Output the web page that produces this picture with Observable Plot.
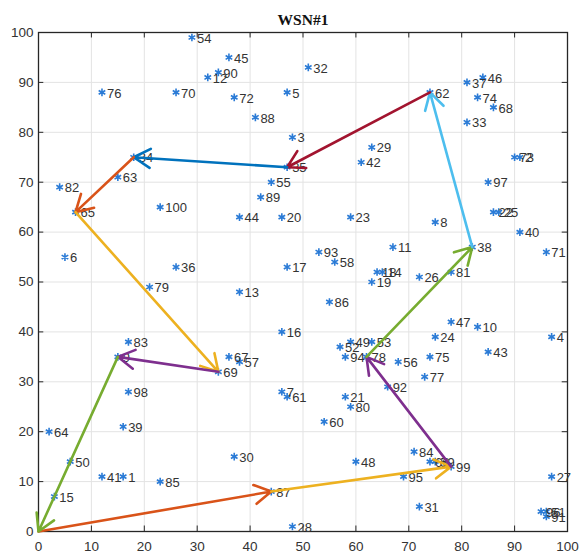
<!DOCTYPE html>
<html><head><meta charset="utf-8">
<script src="https://cdn.jsdelivr.net/npm/d3@7"></script>
<script src="https://cdn.jsdelivr.net/npm/@observablehq/plot@0.6"></script>
<style>body{margin:0;background:#fff;font-family:"Liberation Sans",Arial,sans-serif;}</style>
</head><body><div id="chart"></div>
<script>
// Node coordinates (node id = index + 1)
const nodeX = [16,91,48,97,47,5,46,75,15,83, 67,32,38,65,3,46,47,64,63,46, 58,86,59,75,87,72,97,48,63,37,
               72,51,81,18,47,26,81,82,16,91, 12,61,85,38,36,84,78,60,59,6, 96,57,63,29,44,68,38,56,75,54,
               47,74,15,2,7,74,36,86,34,26, 96,37,90,83,74,12,73,62,21,59, 78,4,17,71,23,55,44,41,42,34,
               96,66,53,58,69,95,85,17,78,23];
const nodeY = [11,75,79,39,88,55,28,62,35,41, 57,91,48,52,7,40,53,52,50,63, 27,64,63,39,64,51,11,1,77,15,
               5,93,82,75,73,53,90,57,21,60, 11,74,36,63,95,91,42,14,38,14, 4,37,38,99,70,34,34,54,14,22,
               27,88,71,20,64,14,35,85,32,88, 56,87,75,87,35,88,31,35,49,25, 52,69,38,16,10,46,8,83,67,92,
               3,29,56,35,11,4,70,28,13,65];
// Route through the nodes (0 = sink at origin)
const routeIds = [0, 87, 99, 78, 38, 62, 35, 34, 65, 69, 9, 0];
const routeColors = ["#D95319","#EDB120","#7E2F8E","#77AC30","#4DBEEE","#A2142F","#0072BD","#D95319","#EDB120","#7E2F8E","#77AC30"];
const tickValues = [0,10,20,30,40,50,60,70,80,90,100];
const title = "WSN#1";

const nodes = nodeX.map((x, i) => ({id: i + 1, x, y: nodeY[i]}));
const pos = id => id === 0 ? [0, 0] : [nodeX[id - 1], nodeY[id - 1]];
const segs = routeColors.map((c, i) => {
  const [x1, y1] = pos(routeIds[i]);
  const [x2, y2] = pos(routeIds[i + 1]);
  return {x1, y1, x2, y2, c};
});

const ink = "#262626";
const chart = Plot.plot({
  width: 581, height: 557,
  marginLeft: 38, marginRight: 14, marginTop: 32, marginBottom: 26,
  style: {fontFamily: "'Liberation Sans', Arial, sans-serif", fontSize: "13px", background: "#fff"},
  x: {domain: [0, 100]},
  y: {domain: [0, 100]},
  color: {type: "identity"},
  marks: [
    Plot.gridX(tickValues, {stroke: "#e3e3e3", strokeOpacity: 1}),
    Plot.gridY(tickValues, {stroke: "#e3e3e3", strokeOpacity: 1}),
    Plot.axisX(tickValues, {tickSize: 0, tickPadding: 10, fontSize: 13.5, color: "#333", label: null}),
    Plot.axisY(tickValues, {tickSize: 0, tickPadding: 5, fontSize: 13.5, color: "#333", label: null}),
    Plot.ruleX(tickValues, {x: d => d, y1: 0, y2: 1.1, stroke: ink}),
    Plot.ruleX(tickValues, {x: d => d, y1: 98.9, y2: 100, stroke: ink}),
    Plot.ruleY(tickValues, {y: d => d, x1: 0, x2: 1, stroke: ink}),
    Plot.ruleY(tickValues, {y: d => d, x1: 99, x2: 100, stroke: ink}),
    Plot.frame({stroke: ink, strokeWidth: 1.3}),
    Plot.dot(nodes, {x: "x", y: "y", symbol: "asterisk", r: 3.6, stroke: "#2b7bd6", strokeWidth: 1.6}),
    Plot.text(nodes, {x: "x", y: "y", text: "id", dx: 5, dy: 1, textAnchor: "start", fontSize: 13, fill: "#333"}),
    Plot.arrow(segs, {x1: "x1", y1: "y1", x2: "x2", y2: "y2", stroke: "c", strokeWidth: 2.6, headLength: 11, insetEnd: 0, insetStart: 0}),
    Plot.text([title], {frameAnchor: "top", dy: -19, fontWeight: "bold", fontSize: 15.5, fontFamily: "'Liberation Serif', 'Times New Roman', serif", fill: "#111"})
  ]
});
document.getElementById("chart").appendChild(chart);
</script>
</body></html>
